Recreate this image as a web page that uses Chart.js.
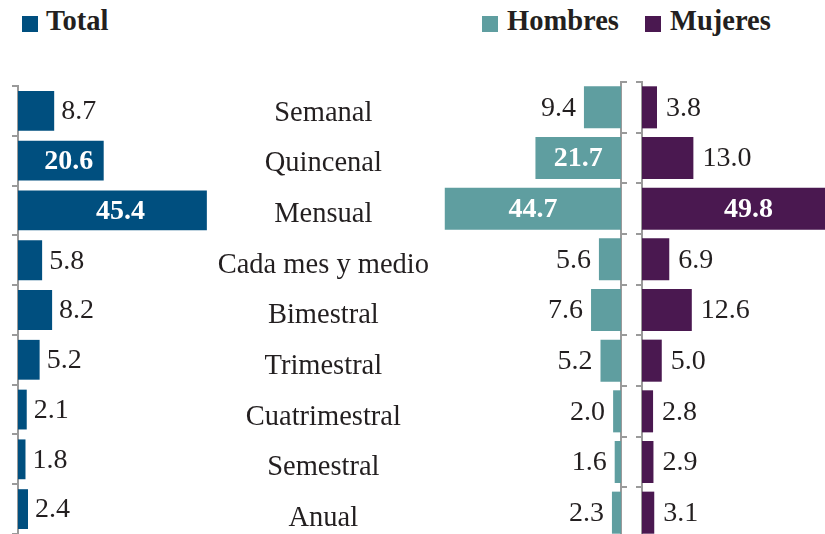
<!DOCTYPE html>
<html>
<head>
<meta charset="utf-8">
<script src="https://cdn.jsdelivr.net/npm/chart.js@4/dist/chart.umd.min.js"></script>
<style>
  html, body { margin:0; padding:0; background:#fff; width:825px; height:534px; overflow:hidden; }
  body { position:relative; font-family:"Liberation Serif", serif; }
  canvas { position:absolute; top:0; }
  .sw { position:absolute; width:16px; height:16px; }
  .lt { position:absolute; font:bold 28.5px "Liberation Serif", serif; color:#231f20; line-height:1; white-space:nowrap; }
</style>
</head>
<body>
<span class="sw" style="left:22px;top:16px;background:#004f7f"></span>
<span class="lt" id="legTotal" style="left:46px;top:7px"></span>
<span class="sw" style="left:482px;top:16px;background:#5f9ea0"></span>
<span class="lt" id="legH" style="left:507px;top:7px"></span>
<span class="sw" style="left:645px;top:16px;background:#4a1850"></span>
<span class="lt" id="legM" style="left:670px;top:7px"></span>

<canvas id="cTotal" width="220" height="534" style="left:0px"></canvas>
<canvas id="cH" width="432" height="540" style="left:200px"></canvas>
<canvas id="cM" width="195" height="540" style="left:630px"></canvas>

<script>
// ---- Data ----
const categories = ['Semanal','Quincenal','Mensual','Cada mes y medio','Bimestral','Trimestral','Cuatrimestral','Semestral','Anual'];
const seriesNames = ['Total','Hombres','Mujeres'];
const totalValues = [8.7, 20.6, 45.4, 5.8, 8.2, 5.2, 2.1, 1.8, 2.4];
const hombresValues = [9.4, 21.7, 44.7, 5.6, 7.6, 5.2, 2.0, 1.6, 2.3];
const mujeresValues = [3.8, 13.0, 49.8, 6.9, 12.6, 5.0, 2.8, 2.9, 3.1];

document.getElementById('legTotal').textContent = seriesNames[0];
document.getElementById('legH').textContent = seriesNames[1];
document.getElementById('legM').textContent = seriesNames[2];

const FONT = "'Liberation Serif'";
const AXIS = '#9a9a9a';
const TEXT = '#231f20';
const VSIZE = 28;

const valueLabels = {
  id: 'valueLabels',
  afterDatasetsDraw(chart, args, opts) {
    const ctx = chart.ctx;
    const meta = chart.getDatasetMeta(0);
    const data = chart.data.datasets[0].data;
    ctx.save();
    ctx.textBaseline = 'middle';
    meta.data.forEach((el, i) => {
      const v = data[i];
      const dir = el.x >= el.base ? 1 : -1;
      const txt = v.toFixed(1);
      if (v >= opts.insideMin) {
        const cx = (el.x + el.base) / 2 + opts.insideShift * dir;
        ctx.font = 'bold ' + VSIZE + 'px ' + FONT;
        ctx.fillStyle = '#ffffff';
        ctx.textAlign = 'center';
        ctx.fillText(txt, cx, el.y + 1);
      } else {
        ctx.font = VSIZE + 'px ' + FONT;
        ctx.fillStyle = TEXT;
        ctx.textAlign = dir > 0 ? 'left' : 'right';
        ctx.fillText(txt, el.x + dir * opts.gap, el.y + 1);
      }
    });
    ctx.restore();
  }
};

function axisY(position, width) {
  return {
    position: position,
    offset: true,
    grid: { offset: true, drawOnChartArea: false, drawTicks: true, tickLength: 6, color: AXIS, lineWidth: 2 },
    border: { display: true, color: AXIS, width: 2 },
    ticks: { display: false },
    afterFit(s) { s.width = width; s.paddingTop = 0; s.paddingBottom = 0; }
  };
}

function build() {
  // Total
  new Chart(document.getElementById('cTotal'), {
    type: 'bar',
    data: { labels: categories, datasets: [{ data: totalValues, backgroundColor: '#004f7f', barPercentage: 0.8, categoryPercentage: 1 }] },
    options: {
      indexAxis: 'y', responsive: false, animation: false,
      layout: { padding: { top: 86, bottom: 0, left: 0, right: 0 } },
      plugins: { legend: { display: false }, tooltip: { enabled: false }, valueLabels: { gap: 7, insideMin: 20, insideShift: 8 } },
      scales: {
        x: { display: false, min: 0, max: 48.56 },
        y: axisY('left', 18)
      }
    },
    plugins: [valueLabels]
  });

  // Hombres (with the shared category labels on its left side)
  new Chart(document.getElementById('cH'), {
    type: 'bar',
    data: { labels: categories, datasets: [{ data: hombresValues, backgroundColor: '#5f9ea0', barPercentage: 0.83, categoryPercentage: 1 }] },
    options: {
      indexAxis: 'y', responsive: false, animation: false,
      layout: { padding: { top: 82, bottom: 2, left: 0, right: 0 } },
      plugins: { legend: { display: false }, tooltip: { enabled: false }, valueLabels: { gap: 8, insideMin: 20, insideShift: 0 } },
      scales: {
        x: { display: false, min: 0, max: 48.7, reverse: true },
        y: axisY('right', 11),
        yCat: {
          type: 'category', axis: 'y', labels: categories, position: 'left', offset: true,
          grid: { display: false, drawTicks: false }, border: { display: false },
          ticks: { crossAlign: 'center', color: TEXT, font: { family: FONT, size: 28.5 }, padding: 0, labelOffset: 6 },
          afterFit(s) { s.width = 229; s.paddingTop = 0; s.paddingBottom = 0; }
        }
      }
    },
    plugins: [valueLabels]
  });

  // Mujeres
  new Chart(document.getElementById('cM'), {
    type: 'bar',
    data: { labels: categories, datasets: [{ data: mujeresValues, backgroundColor: '#4a1850', barPercentage: 0.83, categoryPercentage: 1 }] },
    options: {
      indexAxis: 'y', responsive: false, animation: false,
      layout: { padding: { top: 82, bottom: 2, left: 0, right: 0 } },
      plugins: { legend: { display: false }, tooltip: { enabled: false }, valueLabels: { gap: 9, insideMin: 20, insideShift: 8 } },
      scales: {
        x: { display: false, min: 0, max: 46.3 },
        y: axisY('left', 12)
      }
    },
    plugins: [valueLabels]
  });
}

if (document.fonts && document.fonts.load) {
  Promise.all([
    document.fonts.load("28px 'Liberation Serif'"),
    document.fonts.load("bold 28px 'Liberation Serif'")
  ]).then(build, build);
} else {
  build();
}
</script>
</body>
</html>
